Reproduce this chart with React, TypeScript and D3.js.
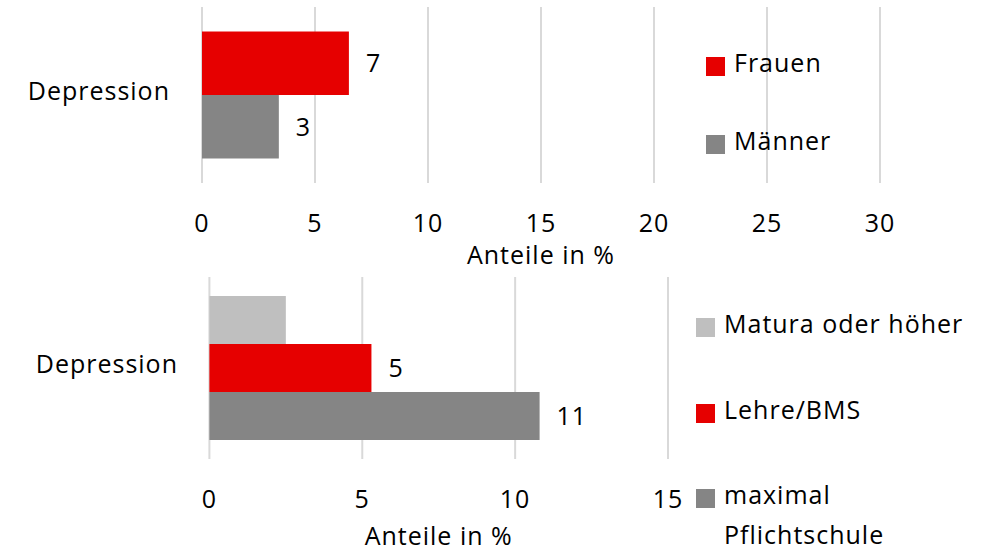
import React from "react";
import * as d3 from "d3";

// ---- data ----
const categories = ["Depression"];

const sexSeries = ["Frauen", "Männer"];
const sexValues = [6.5, 3.4];
const sexLabelShown = [true, true];
const sexColors = ["#E60000", "#858585"];
const sexTicks = [0, 5, 10, 15, 20, 25, 30];

const eduSeries = ["Matura oder höher", "Lehre/BMS", "maximal Pflichtschule"];
const eduLegendLines = [["Matura oder höher"], ["Lehre/BMS"], ["maximal", "Pflichtschule"]];
const eduValues = [2.5, 5.3, 10.8];
const eduLabelShown = [false, true, true];
const eduColors = ["#BFBFBF", "#E60000", "#858585"];
const eduTicks = [0, 5, 10, 15];

const axisTitle = "Anteile in %";

const FONT = "'Open Sans', sans-serif";
const FS = 25;
const LS = 1;

type PanelProps = {
  x0: number;
  x1: number;
  xMax: number;
  ticks: number[];
  gridTop: number;
  gridBottom: number;
  outerPad: number;
  series: string[];
  values: number[];
  shown: boolean[];
  colors: string[];
  tickBaseline: number;
  titleBaseline: number;
  catRight: number;
  legendX: number;
  legendYs: number[];
  legendLines: string[][];
};

function Panel(p: PanelProps) {
  const x = d3.scaleLinear().domain([0, p.xMax]).range([p.x0, p.x1]);
  const yCat = d3
    .scaleBand<string>()
    .domain(categories)
    .range([p.gridTop, p.gridBottom])
    .paddingInner(0)
    .paddingOuter(p.outerPad);
  const ySer = d3
    .scaleBand<string>()
    .domain(p.series)
    .range([0, yCat.bandwidth()]);
  const textStyle = { fontFamily: FONT, fontSize: FS, letterSpacing: LS, fill: "#000" } as const;
  return (
    <g>
      {p.ticks.map((t) => (
        <line
          key={"g" + t}
          x1={x(t)}
          x2={x(t)}
          y1={p.gridTop}
          y2={p.gridBottom}
          stroke="#D9D9D9"
          strokeWidth={2}
        />
      ))}
      {categories.map((c) => (
        <g key={c}>
          <text
            x={p.catRight}
            y={(yCat(c) as number) + yCat.bandwidth() / 2 + 5}
            textAnchor="end"
            style={textStyle}
          >
            {c}
          </text>
          {p.series.map((s, i) => {
            const yy = (yCat(c) as number) + (ySer(s) as number);
            return (
              <g key={s}>
                <rect
                  x={x(0)}
                  y={yy}
                  width={x(p.values[i]) - x(0)}
                  height={ySer.bandwidth()}
                  fill={p.colors[i]}
                />
                {p.shown[i] && (
                  <text
                    x={x(p.values[i]) + 17}
                    y={yy + ySer.bandwidth() / 2 + 9}
                    style={textStyle}
                  >
                    {Math.round(p.values[i])}
                  </text>
                )}
              </g>
            );
          })}
        </g>
      ))}
      {p.ticks.map((t) => (
        <text key={"t" + t} x={x(t)} y={p.tickBaseline} textAnchor="middle" style={textStyle}>
          {t}
        </text>
      ))}
      <text x={(p.x0 + p.x1) / 2} y={p.titleBaseline} textAnchor="middle" style={textStyle}>
        {axisTitle}
      </text>
      {p.series.map((s, i) => (
        <g key={"l" + s}>
          <rect x={p.legendX} y={p.legendYs[i]} width={19} height={19} fill={p.colors[i]} />
          {p.legendLines[i].map((ln, j) => (
            <text key={j} x={p.legendX + 28} y={p.legendYs[i] + 15 + j * 40} style={textStyle}>
              {ln}
            </text>
          ))}
        </g>
      ))}
    </g>
  );
}

export default function App() {
  return (
    <svg
      width={987}
      height={551}
      style={{ position: "absolute", left: 0, top: 0, background: "#fff" }}
    >
      <rect width={987} height={551} fill="#fff" />
      <Panel
        x0={202}
        x1={880}
        xMax={30}
        ticks={sexTicks}
        gridTop={7}
        gridBottom={183}
        outerPad={0.193}
        series={sexSeries}
        values={sexValues}
        shown={sexLabelShown}
        colors={sexColors}
        tickBaseline={232}
        titleBaseline={264}
        catRight={170}
        legendX={706}
        legendYs={[57, 135]}
        legendLines={sexSeries.map((s) => [s])}
      />
      <Panel
        x0={209.4}
        x1={668}
        xMax={15}
        ticks={eduTicks}
        gridTop={277}
        gridBottom={459}
        outerPad={0.132}
        series={eduSeries}
        values={eduValues}
        shown={eduLabelShown}
        colors={eduColors}
        tickBaseline={508}
        titleBaseline={545}
        catRight={178}
        legendX={696}
        legendYs={[318, 404, 489]}
        legendLines={eduLegendLines}
      />
    </svg>
  );
}
